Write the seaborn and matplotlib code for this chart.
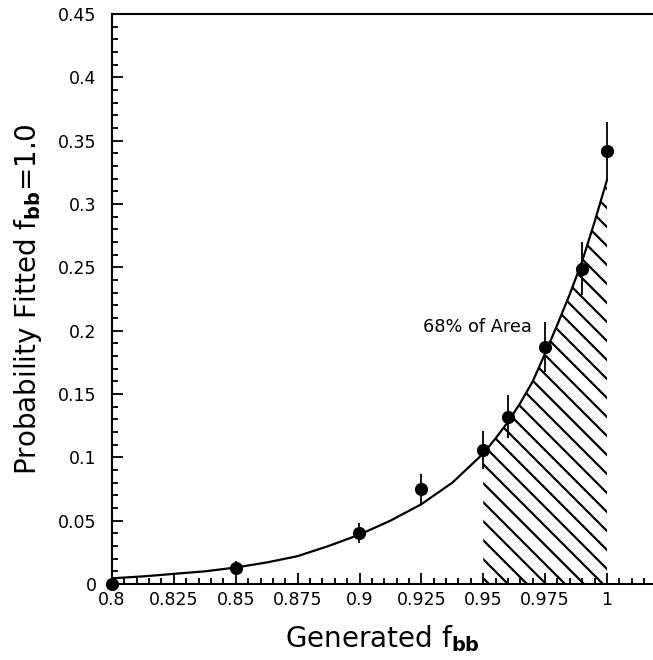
import numpy as np
import pandas as pd
import seaborn as sns
import matplotlib

matplotlib.use("Agg")
import matplotlib.pyplot as plt
from matplotlib.ticker import MultipleLocator, FuncFormatter

# Measured points (generated f_bb vs probability of fitting f_bb = 1.0)
gen_fbb = [0.80, 0.85, 0.90, 0.925, 0.95, 0.96, 0.975, 0.99, 1.00]
prob_fit = [0.000, 0.013, 0.040, 0.075, 0.106, 0.132, 0.187, 0.249, 0.342]
prob_err = [0.000, 0.005, 0.008, 0.012, 0.015, 0.017, 0.020, 0.021, 0.023]

# Fitted curve
curve_x = [0.80, 0.8125, 0.825, 0.8375, 0.85, 0.8625, 0.875, 0.8875, 0.90,
           0.9125, 0.925, 0.9375, 0.95, 0.955, 0.96, 0.965, 0.97, 0.975,
           0.98, 0.985, 0.99, 0.995, 1.00]
curve_y = [0.0045, 0.006, 0.008, 0.010, 0.013, 0.017, 0.022, 0.030, 0.039,
           0.050, 0.063, 0.080, 0.103, 0.115, 0.128, 0.143, 0.160, 0.182,
           0.205, 0.229, 0.255, 0.286, 0.319]

area_start = 0.95
area_label = "68% of Area"

points = pd.DataFrame({"x": gen_fbb, "y": prob_fit, "err": prob_err})
curve = pd.DataFrame({"x": curve_x, "y": curve_y})

# dpi chosen so the hatch spacing matches the scan; sizes below are in
# "100 dpi points" and scaled with k
DPI = 114
k = 100.0 / DPI

sns.set_style("ticks")
plt.rcParams["font.family"] = ["DejaVu Sans"]
plt.rcParams["hatch.linewidth"] = 1.6 * k
for key in ["text.color", "axes.labelcolor", "xtick.color", "ytick.color",
            "axes.edgecolor"]:
    plt.rcParams[key] = "black"

fig = plt.figure(figsize=(653 / DPI, 660 / DPI), dpi=DPI)
ax = fig.add_axes([112 / 653, 1 - 584 / 660, 1 - 112 / 653, (584 - 14) / 660])

# hatched 68% region under the fit
shade = curve[curve["x"] >= area_start]
ax.fill_between(shade["x"], 0, shade["y"], facecolor="none", edgecolor="black",
                hatch="\\\\", linewidth=0)

sns.lineplot(data=curve, x="x", y="y", color="black", linewidth=1.6 * k, ax=ax,
             estimator=None, sort=False)
ax.errorbar(points["x"], points["y"], yerr=points["err"], fmt="none",
            ecolor="black", elinewidth=1.3 * k, capsize=0)
sns.scatterplot(data=points, x="x", y="y", color="black", s=90 * k * k,
                edgecolor="black", linewidth=0, ax=ax, zorder=5, clip_on=False)

ax.text(0.9255, 0.203, area_label, fontsize=12.8 * k, va="center", ha="left")

ax.set_xlim(0.8, 0.8 + (653 - 112) / 2475)
ax.set_ylim(0, 0.45)

ax.xaxis.set_major_locator(MultipleLocator(0.025))
ax.xaxis.set_minor_locator(MultipleLocator(0.005))
ax.yaxis.set_major_locator(MultipleLocator(0.05))
ax.yaxis.set_minor_locator(MultipleLocator(0.01))
fmt = FuncFormatter(lambda v, p: "{:g}".format(round(v, 4)))
ax.xaxis.set_major_formatter(fmt)
ax.yaxis.set_major_formatter(fmt)
ax.set_xticks([t for t in np.arange(0.8, 1.0001, 0.025)])

ax.tick_params(which="both", direction="in", width=1.3 * k,
               labelsize=12.5 * k, top=False, right=False)
ax.tick_params(which="major", length=8 * k)
ax.tick_params(which="minor", length=4.5 * k)
ax.tick_params(axis="y", pad=11 * k)
ax.tick_params(axis="x", pad=5 * k)

for side in ["left", "bottom", "top"]:
    ax.spines[side].set_linewidth(1.5 * k)
ax.spines["right"].set_visible(False)

ax.set_xlabel(r"Generated f$_{\mathbf{bb}}$", fontsize=20 * k,
              labelpad=10 * k)
ax.set_ylabel(r"Probability Fitted f$_{\mathbf{bb}}$=1.0", fontsize=20 * k,
              labelpad=10 * k)

fig.savefig("out.png", dpi=DPI)
plt.close()
